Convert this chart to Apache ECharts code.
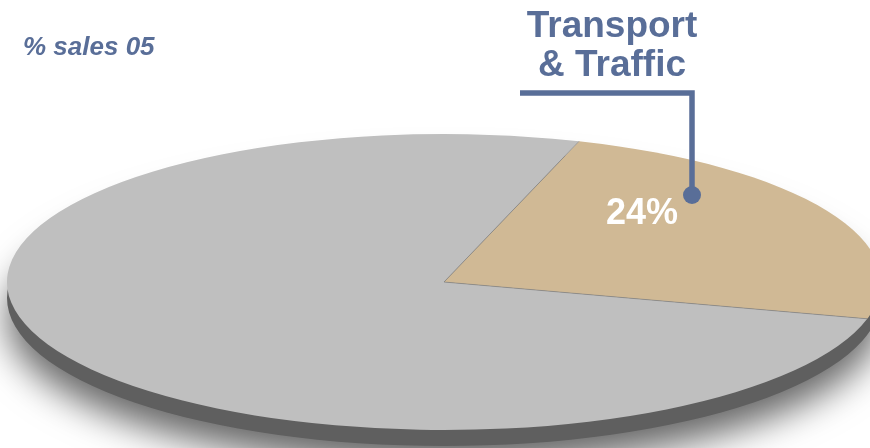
<!DOCTYPE html>
<html>
<head>
<meta charset="utf-8">
<script src="https://cdn.jsdelivr.net/npm/echarts@6/dist/echarts.min.js"></script>
<style>
html,body{margin:0;padding:0;background:#fff;}
#chart{width:870px;height:448px;}
</style>
</head>
<body>
<div id="chart"></div>
<script>
// ---- data ----
const categories = ['Transport & Traffic', 'Other'];
const values = [24, 76];
const colors = ['#d0b995', '#bfbfbf'];
const titleText = '% sales 05';
const labelledIndex = 0;

// ---- layout / style ----
const CX = 444, CY = 282, RX = 437, RY = 148, DEPTH = 16, START_ANGLE = 72;
const ACCENT = '#596e98';
const FONT = "'Liberation Sans', Arial, Helvetica, sans-serif";

const chart = echarts.init(document.getElementById('chart'), null, {renderer: 'canvas'});
const total = values.reduce((a, b) => a + b, 0);
const K = RY / RX;

function renderItem(params, api) {
  const i = params.dataIndex;
  let cum = 0;
  for (let j = 0; j < i; j++) cum += values[j];
  const v = api.value(0);
  const a0 = START_ANGLE - cum / total * 360;
  const a1 = a0 - v / total * 360;
  const rad = Math.PI / 180;

  const geom = [];
  if (i === 0) {
    geom.push({
      type: 'circle', z2: 1,
      shape: {cx: CX, cy: CY + DEPTH / K, r: RX},
      style: {fill: '#5f5f5f', shadowBlur: 36, shadowOffsetY: 20, shadowColor: 'rgba(0,0,0,0.6)'}
    });
  }
  geom.push({
    type: 'sector', z2: 5,
    shape: {cx: CX, cy: CY, r0: 0, r: RX, startAngle: -a0 * rad, endAngle: -a1 * rad, clockwise: true},
    style: {fill: colors[i]}
  });

  const children = [{
    type: 'group', originX: CX, originY: CY, scaleY: K, children: geom
  }];

  children.push({
    type: 'line', z2: 6,
    shape: {x1: CX, y1: CY, x2: CX + RX * Math.cos(a0 * rad), y2: CY - RY * Math.sin(a0 * rad)},
    style: {stroke: 'rgba(120,120,120,0.7)', lineWidth: 0.8}
  });

  if (i === labelledIndex) {
    const pct = Math.round(v / total * 100) + '%';
    children.push({
      type: 'text', z2: 20, x: 642, y: 214,
      style: {text: pct, fill: '#ffffff', fontSize: 36, fontWeight: 'bold', fontFamily: FONT,
              align: 'center', verticalAlign: 'middle'}
    });
    children.push({
      type: 'polyline', z2: 20,
      shape: {points: [[520, 93], [692, 93], [692, 195]]},
      style: {stroke: ACCENT, lineWidth: 5.5, fill: null, lineJoin: 'miter'}
    });
    children.push({
      type: 'circle', z2: 21,
      shape: {cx: 692, cy: 195, r: 9},
      style: {fill: ACCENT}
    });
    children.push({
      type: 'text', z2: 20, x: 612, y: 46,
      style: {text: categories[i].replace(' & ', '\n& '), fill: ACCENT, fontSize: 37, fontWeight: 'bold',
              fontFamily: FONT, align: 'center', verticalAlign: 'middle', lineHeight: 39}
    });
  }
  return {type: 'group', children: children};
}

chart.setOption({
  animation: false,
  title: {
    text: titleText, left: 23, top: 35, padding: 0,
    textStyle: {fontSize: 26, fontStyle: 'italic', fontWeight: 'bold', color: ACCENT, fontFamily: FONT}
  },
  series: [{
    type: 'custom',
    coordinateSystem: 'none',
    renderItem: renderItem,
    data: values.map((v, i) => ({name: categories[i], value: v}))
  }]
});
</script>
</body>
</html>
